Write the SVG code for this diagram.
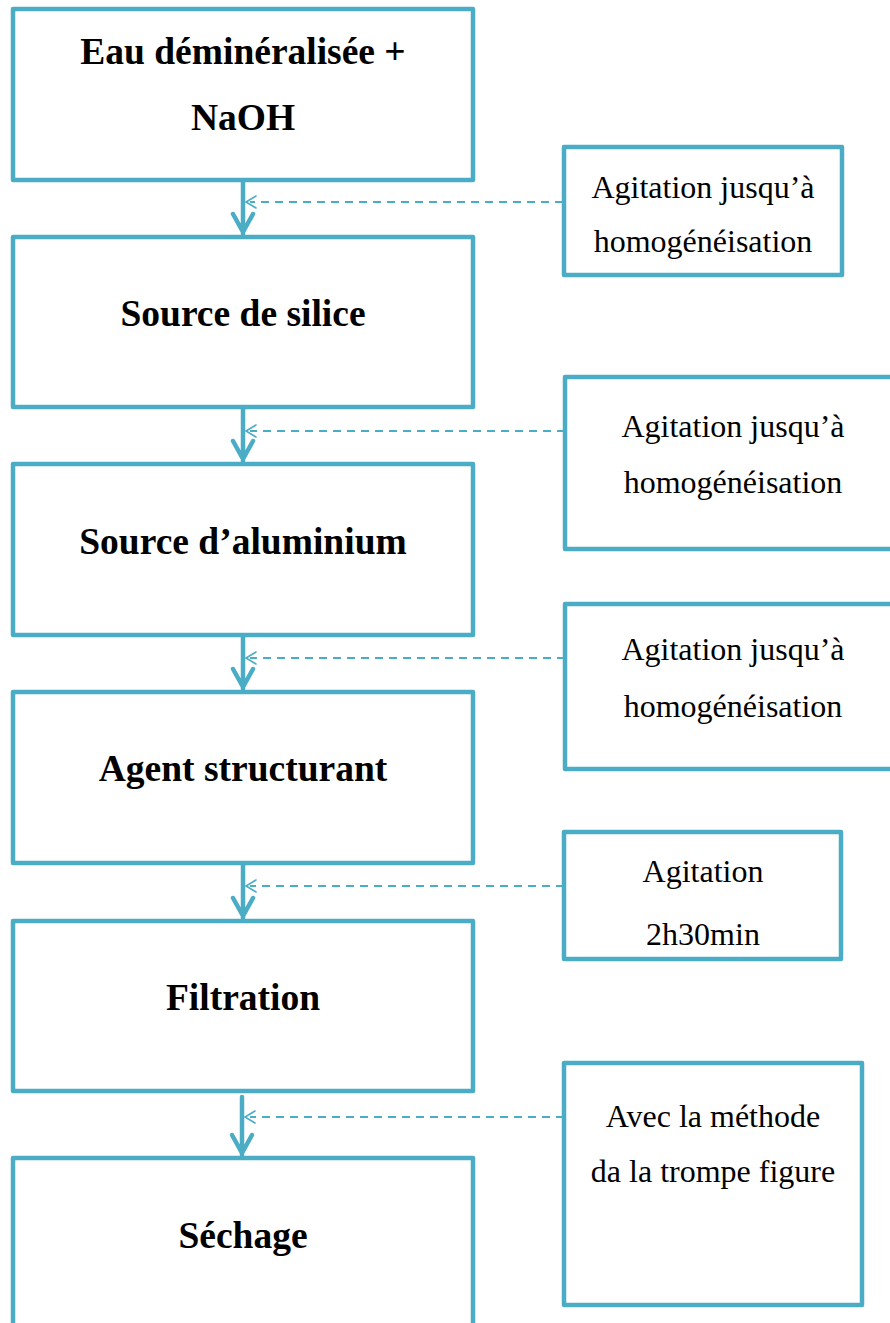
<svg xmlns="http://www.w3.org/2000/svg" width="890" height="1323" viewBox="0 0 890 1323">
<defs>
<style>
.box{fill:#fff;stroke:#4BACC6;stroke-width:4.5;stroke-linejoin:round}
.main{font-family:"Liberation Serif","Times New Roman",serif;font-weight:bold;font-size:37.5px;fill:#000;text-anchor:middle}
.note{font-family:"Liberation Serif","Times New Roman",serif;font-size:32px;fill:#000;text-anchor:middle}
.flow{fill:none;stroke:#4BACC6;stroke-width:4.5;stroke-linecap:round;stroke-linejoin:round}
.dash{fill:none;stroke:#4BACC6;stroke-width:2;stroke-dasharray:8 6}
.open{fill:none;stroke:#4BACC6;stroke-width:1.6;stroke-linecap:round}
</style>
</defs>
<rect width="890" height="1323" fill="#fff"/>
<g id="connectors">
<g>
<path class="flow" d="M243 181 V234 M233 214 L243 232 L253 214"/>
<path class="dash" d="M563 202 H250"/><path class="open" d="M256 196 L246 202 L256 208"/>
</g>
<g>
<path class="flow" d="M243 408 V461 M233 441 L243 459 L253 441"/>
<path class="dash" d="M565 431 H250"/><path class="open" d="M256 425 L246 431 L256 437"/>
</g>
<g>
<path class="flow" d="M243 636 V689 M233 669 L243 687 L253 669"/>
<path class="dash" d="M565 658 H250"/><path class="open" d="M256 652 L246 658 L256 664"/>
</g>
<g>
<path class="flow" d="M243 864 V918 M233 898 L243 916 L253 898"/>
<path class="dash" d="M564 886 H250"/><path class="open" d="M256 880 L246 886 L256 892"/>
</g>
<g>
<path class="flow" d="M242 1097 V1155 M232 1135 L242 1153 L252 1135"/>
<path class="dash" d="M564 1117 H250"/><path class="open" d="M255 1111 L245 1117 L255 1123"/>
</g>
</g>
<g id="n1"><rect class="box" x="13" y="9" width="460" height="171"/><text class="main" x="243" y="64">Eau déminéralisée +</text><text class="main" x="243" y="130">NaOH</text></g>
<g id="n2"><rect class="box" x="13" y="237" width="460" height="170"/><text class="main" x="243" y="326">Source de silice</text></g>
<g id="n3"><rect class="box" x="13" y="464" width="460" height="171"/><text class="main" x="243" y="554">Source d’aluminium</text></g>
<g id="n4"><rect class="box" x="13" y="692" width="460" height="171"/><text class="main" x="243" y="781">Agent structurant</text></g>
<g id="n5"><rect class="box" x="13" y="921" width="460" height="170"/><text class="main" x="243" y="1010">Filtration</text></g>
<g id="n6"><rect class="box" x="13" y="1158" width="460" height="200"/><text class="main" x="243" y="1248">Séchage</text></g>
<g id="r1"><rect class="box" x="564" y="147" width="278" height="128"/><text class="note" x="703" y="198">Agitation jusqu’à</text><text class="note" x="703" y="252">homogénéisation</text></g>
<g id="r2"><rect class="box" x="565" y="377" width="340" height="172"/><text class="note" x="733" y="437">Agitation jusqu’à</text><text class="note" x="733" y="493">homogénéisation</text></g>
<g id="r3"><rect class="box" x="565" y="604" width="340" height="165"/><text class="note" x="733" y="660">Agitation jusqu’à</text><text class="note" x="733" y="717">homogénéisation</text></g>
<g id="r4"><rect class="box" x="564" y="832" width="277" height="127"/><text class="note" x="703" y="882">Agitation</text><text class="note" x="703" y="945">2h30min</text></g>
<g id="r5"><rect class="box" x="564" y="1063" width="298" height="242"/><text class="note" x="713" y="1127">Avec la méthode</text><text class="note" x="713" y="1182">da la trompe figure</text></g>
</svg>
